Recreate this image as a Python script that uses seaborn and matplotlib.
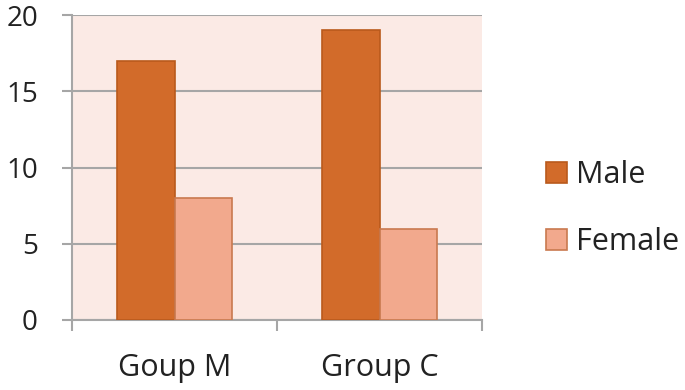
import pandas as pd
import seaborn as sns
import matplotlib.pyplot as plt
from matplotlib.patches import Patch

# Chart data
groups = ["Goup M", "Group C"]
male = [17, 19]
female = [8, 6]
series = ["Male", "Female"]

df = pd.DataFrame({
    "group": groups * 2,
    "sex": ["Male"] * len(groups) + ["Female"] * len(groups),
    "count": male + female,
})

face = {"Male": "#D26B2A", "Female": "#F2A98D"}
edge = {"Male": "#B95A1C", "Female": "#C9794F"}
grid_col = "#A6A6A6"
text_col = "#222222"

sns.set_style("white")
plt.rcParams["font.family"] = ["Open Sans", "DejaVu Sans"]

fig = plt.figure(figsize=(6.85, 3.9), dpi=100)
ax = fig.add_axes([72 / 685, 70 / 390, 410 / 685, 305 / 390])
ax.set_facecolor("#FBEAE5")

sns.barplot(data=df, x="group", y="count", hue="sex", order=groups,
            hue_order=series, palette=face, width=0.56, gap=0,
            saturation=1, ax=ax, legend=False)

# per-series edge colours
for cont, name in zip(ax.containers, series):
    for bar in cont:
        bar.set_edgecolor(edge[name])
        bar.set_linewidth(1.2)
        bar.set_zorder(3)

ax.set_ylim(0, 20)
ax.set_xlim(-0.5, 1.5)
ax.set_yticks([0, 5, 10, 15, 20])
ax.yaxis.grid(True, color=grid_col, linewidth=1.5, zorder=0)
ax.set_axisbelow(True)

# category boundary ticks on x, labels centred on categories
ax.set_xticks([-0.5, 0.5, 1.5])
ax.set_xticklabels([])
ax.set_xticks([0, 1], minor=True)
ax.set_xticklabels(groups, minor=True)
ax.tick_params(axis="x", which="major", bottom=True, length=8, width=1.5,
               color=grid_col, direction="out")
ax.tick_params(axis="x", which="minor", bottom=True, length=0, pad=24,
               labelsize=22, labelcolor=text_col)
ax.tick_params(axis="y", left=True, length=7.5, width=1.5, color=grid_col,
               direction="out", pad=17, labelsize=20, labelcolor=text_col)
ax.set_xlabel("")
ax.set_ylabel("")

for s in ["top", "right"]:
    ax.spines[s].set_visible(False)
for s in ["left", "bottom"]:
    ax.spines[s].set_color(grid_col)
    ax.spines[s].set_linewidth(1.5)

handles = [Patch(facecolor=face[n], edgecolor=edge[n], linewidth=1.2, label=n) for n in series]
fig.legend(handles=handles, loc="center left", bbox_to_anchor=(518 / 685, 0.465),
           frameon=False, fontsize=22, handlelength=0.7, handleheight=0.7,
           handletextpad=0.3, labelspacing=1.2, labelcolor=text_col)

plt.savefig("out.png", dpi=100)
